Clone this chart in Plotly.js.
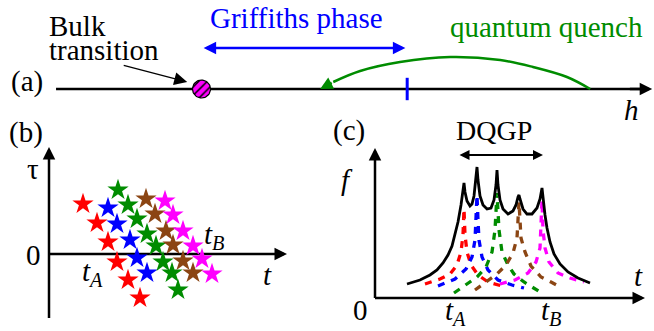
<!DOCTYPE html>
<html><head><meta charset="utf-8">
<script src="https://cdn.plot.ly/plotly-3.0.1.min.js"></script>
<style>html,body{margin:0;padding:0;background:#fff}</style>
</head><body><div id="chart" style="width:654px;height:331px"></div>
<script>
// ---------- Panel (a): h axis ----------
const hLineH = [0, 9.8];
const hLineY = [0, 0];
const bulkH = 2.44;            // bulk transition point
const griffithsRange = [2.45, 5.86];
const quenchTickH = [5.89];
const quenchArcH = [8.96, 8.57, 8.00, 7.45, 6.61, 5.77, 5.10, 4.65];
const quenchArcY = [0, 12, 22, 29, 32, 27, 18, 7];
const quenchEnd = [4.43, 0];

// ---------- Panel (b): stars in (t, tau) ----------
const redT = [1.7, 2.4, 2.95, 3.4, 3.95, 4.55];
const redTau = [2.5, 1.55, 0.6, -0.4, -1.3, -2.2];
const blueT = [2.95, 3.4, 4.05, 4.4, 4.9];
const blueTau = [2.3, 1.5, 0.7, -0.2, -0.95];
const greenT = [3.45, 3.95, 4.4, 4.9, 5.35, 5.7, 6.15, 6.45];
const greenTau = [3.2, 2.45, 1.75, 1.0, 0.4, -0.4, -0.95, -1.8];
const brownT = [4.85, 5.3, 5.85, 6.2, 6.7, 7.2];
const brownTau = [2.75, 2.0, 1.15, 0.45, -0.35, -0.95];
const magentaT = [5.8, 6.2, 6.7, 7.2, 7.65, 8.15];
const magentaTau = [2.65, 1.95, 1.15, 0.4, -0.25, -1.0];

// ---------- Panel (c): f(t) ----------
const blackT = [3.2,4.5,5.5,6.2,6.8,7.3,7.7,8.0,8.3,8.6,8.8,8.9,9.0,9.2,9.5,9.7,9.9,10.1,10.2,10.3,10.5,10.8,11.2,11.6,11.9,12.1,12.2,12.3,12.5,12.8,13.3,13.8,14.1,14.3,14.4,14.5,14.8,15.2,15.7,16.2,16.5,16.7,16.8,17.0,17.2,17.5,17.9,18.5,19.3,20.3,21.5];
const blackF = [1.4,1.8,2.3,2.8,3.5,4.3,5.2,6.3,7.6,9.3,10.6,11.5,10.6,9.7,9.2,9.4,10.2,11.8,13.1,11.8,10.2,9.3,8.9,9.0,9.8,11.3,12.8,11.3,9.8,8.9,8.4,8.7,9.3,10.1,10.3,9.9,8.9,8.4,8.4,9.0,9.9,11.0,9.8,8.3,7.0,5.6,4.4,3.4,2.6,2.0,1.5];
const redCT = [5.0,6.5,7.5,8.2,8.6,8.8,8.9,9.0,9.2,9.6,10.3,11.3,12.7];
const redCF = [1.4,1.9,2.4,3.3,4.6,6.3,8.9,6.3,4.6,3.3,2.3,1.6,1.2];
const blueCT = [6.3,8.0,9.1,9.7,10.0,10.1,10.2,10.3,10.4,10.7,11.3,12.3,13.7,14.9];
const blueCF = [1.2,1.9,2.9,4.1,5.8,7.8,10.3,7.8,5.8,4.1,2.8,1.8,1.3,1.0];
const greenCT = [7.9,9.1,10.2,11.1,11.7,12.0,12.2,12.4,12.7,13.3,13.9,14.9,16.5];
const greenCF = [0.5,1.3,2.1,3.1,4.6,6.8,10.5,6.8,4.6,3.3,2.4,1.6,0.6];
const brownCT = [10.0,11.1,12.2,13.1,13.8,14.2,14.4,14.6,15.0,15.6,16.6,17.6,18.7];
const brownCF = [0.8,1.6,2.4,3.3,4.5,6.0,9.6,6.0,4.6,3.2,2.1,1.6,1.0];
const magentaCT = [12.5,14.0,15.3,16.1,16.5,16.6,16.7,16.8,17.0,17.4,18.3,19.5,20.9];
const magentaCF = [1.4,1.8,2.5,3.6,5.0,6.8,9.8,6.8,5.0,3.6,2.5,2.0,1.6];
const dqgpRange = [8.3, 16.8];

// ---------- colours ----------
const RED = 'rgb(255,0,0)', BLUE = 'rgb(0,0,255)', GREEN = 'rgb(0,140,0)',
      BROWN = 'rgb(139,69,19)', MAGENTA = 'rgb(255,0,255)', BLACK = '#000';
const FONT = 'Liberation Serif';

// circle outline for the hatched bulk point (radius 9px in both directions)
const circH = [], circY = [];
for (let i = 0; i <= 48; i++) {
  const a = 2 * Math.PI * i / 48;
  circH.push(bulkH + (9 / 59.6) * Math.cos(a));
  circY.push(9 * Math.sin(a));
}

const traces = [];
// panel a
traces.push({x: hLineH, y: hLineY, xaxis: 'x', yaxis: 'y', mode: 'lines', line: {color: BLACK, width: 2.5}});
traces.push({x: quenchArcH, y: quenchArcY, xaxis: 'x', yaxis: 'y', mode: 'lines', line: {color: GREEN, width: 2.5, shape: 'spline'}});
traces.push({x: quenchTickH, y: [0], xaxis: 'x', yaxis: 'y', mode: 'markers', marker: {symbol: 'line-ns', size: 16, line: {color: BLUE, width: 3}}});
traces.push({x: circH, y: circY, xaxis: 'x', yaxis: 'y', mode: 'lines', fill: 'toself',
  fillcolor: MAGENTA, fillpattern: {shape: '/', bgcolor: MAGENTA, fgcolor: BLACK, size: 6, solidity: 0.25},
  line: {color: BLACK, width: 1.2}});

// panel b axes
traces.push({x: [0, 11.6], y: [0, 0], xaxis: 'x2', yaxis: 'y2', mode: 'lines', line: {color: BLACK, width: 2.5}});
traces.push({x: [0, 0], y: [-3.2, 5.1], xaxis: 'x2', yaxis: 'y2', mode: 'lines', line: {color: BLACK, width: 2.5}});
// stars
[[redT, redTau, RED], [blueT, blueTau, BLUE], [greenT, greenTau, GREEN], [brownT, brownTau, BROWN], [magentaT, magentaTau, MAGENTA]].forEach(s => {
  traces.push({x: s[0], y: s[1], xaxis: 'x2', yaxis: 'y2', mode: 'markers', marker: {symbol: 'star', size: 16, color: s[2], line: {width: 0}}});
});

// panel c axes
traces.push({x: [0, 26.4], y: [0, 0], xaxis: 'x3', yaxis: 'y3', mode: 'lines', line: {color: BLACK, width: 2.5}});
traces.push({x: [0, 0], y: [0, 14.5], xaxis: 'x3', yaxis: 'y3', mode: 'lines', line: {color: BLACK, width: 2.5}});
[[redCT, redCF, RED], [blueCT, blueCF, BLUE], [greenCT, greenCF, GREEN], [brownCT, brownCF, BROWN], [magentaCT, magentaCF, MAGENTA]].forEach(s => {
  traces.push({x: s[0], y: s[1], xaxis: 'x3', yaxis: 'y3', mode: 'lines', line: {color: s[2], width: 3.3, dash: '7px,7px'}});
});
traces.push({x: blackT, y: blackF, xaxis: 'x3', yaxis: 'y3', mode: 'lines', line: {color: BLACK, width: 2.8}});

const W = 654, H = 331;
function txt(text, px, py, opts) {
  return Object.assign({text: text, xref: 'paper', yref: 'paper', x: px / W, y: 1 - py / H,
    showarrow: false, xanchor: 'center', yanchor: 'middle',
    font: {family: FONT, size: 29, color: BLACK}}, opts || {});
}
function arrow(xr, yr, x, y, ax, ay, color, width, opts) {
  return Object.assign({text: '', xref: xr, yref: yr, axref: xr, ayref: yr, x: x, y: y, ax: ax, ay: ay,
    showarrow: true, arrowhead: 2, arrowsize: 1, arrowwidth: width, arrowcolor: color, standoff: 0, startstandoff: 0}, opts || {});
}

const annotations = [
  txt('Griffiths phase', 296.5, 18, {font: {family: FONT, size: 29, color: BLUE}}),
  txt('quantum quench', 546, 27, {font: {family: FONT, size: 29, color: GREEN}}),
  txt('Bulk', 47, 26, {xanchor: 'left'}),
  txt('transition', 47, 50, {xanchor: 'left'}),
  txt('(a)', 9, 82, {xanchor: 'left'}),
  txt('<i>h</i>', 631, 110),
  txt('(b)', 7, 132, {xanchor: 'left'}),
  txt('τ', 33, 169),
  txt('0', 33, 255),
  txt('<i>t</i>', 267, 275),
  txt('<i>t<sub>A</sub></i>', 80, 273, {xanchor: 'left'}),
  txt('<i>t<sub>B</sub></i>', 202, 236, {xanchor: 'left'}),
  txt('(c)', 331, 130, {xanchor: 'left'}),
  txt('DQGP', 494, 130, {font: {family: FONT, size: 28, color: BLACK}}),
  txt('<i>f</i>', 347, 180),
  txt('<i>t</i>', 638, 276),
  txt('0', 360, 310),
  txt('<i>t<sub>A</sub></i>', 443, 312, {xanchor: 'left'}),
  txt('<i>t<sub>B</sub></i>', 539, 312, {xanchor: 'left'}),
  // arrows
  arrow('x', 'y', 10.0, 0, 9.6, 0, BLACK, 2.5),
  arrow('x', 'y', 2.20, 7, 1.11, 24, BLACK, 1.3, {arrowsize: 2}),
  arrow('x', 'y', griffithsRange[1], 41, griffithsRange[0], 41, BLUE, 2.5, {arrowside: 'end+start'}),
  arrow('x', 'y', quenchEnd[0], quenchEnd[1], 4.65, 7, GREEN, 2.5),
  arrow('x2', 'y2', 11.9, 0, 11.4, 0, BLACK, 2.5),
  arrow('x2', 'y2', 0, 5.35, 0, 4.9, BLACK, 2.5),
  arrow('x3', 'y3', 27.0, 0, 26.0, 0, BLACK, 2.5),
  arrow('x3', 'y3', 0, 15.0, 0, 14.0, BLACK, 2.5),
  arrow('x3', 'y3', dqgpRange[1], 14.3, dqgpRange[0], 14.3, BLACK, 2, {arrowside: 'end+start'})
];

const hidden = {visible: false, fixedrange: true};
const layout = {
  width: W, height: H, margin: {l: 0, r: 0, t: 0, b: 0},
  font: {family: FONT, size: 29, color: BLACK},
  paper_bgcolor: '#fff', plot_bgcolor: 'rgba(0,0,0,0)', showlegend: false,
  xaxis: Object.assign({domain: [0, 1], range: [-0.94, 10.03], anchor: 'y'}, hidden),
  yaxis: Object.assign({domain: [1 - 110 / 331, 1], range: [-21, 89], anchor: 'x'}, hidden),
  xaxis2: Object.assign({domain: [0, 330 / 654], range: [-2.45, 14.05], anchor: 'y2'}, hidden),
  yaxis2: Object.assign({domain: [0, 1 - 110 / 331], range: [-3.85, 7.2], anchor: 'x2'}, hidden),
  xaxis3: Object.assign({domain: [330 / 654, 1], range: [-4.5, 27.9], anchor: 'y3'}, hidden),
  yaxis3: Object.assign({domain: [0, 1 - 110 / 331], range: [-3.3, 18.8], anchor: 'x3'}, hidden),
  annotations: annotations
};
Plotly.newPlot('chart', traces, layout, {staticPlot: true, displayModeBar: false});
</script></body></html>
